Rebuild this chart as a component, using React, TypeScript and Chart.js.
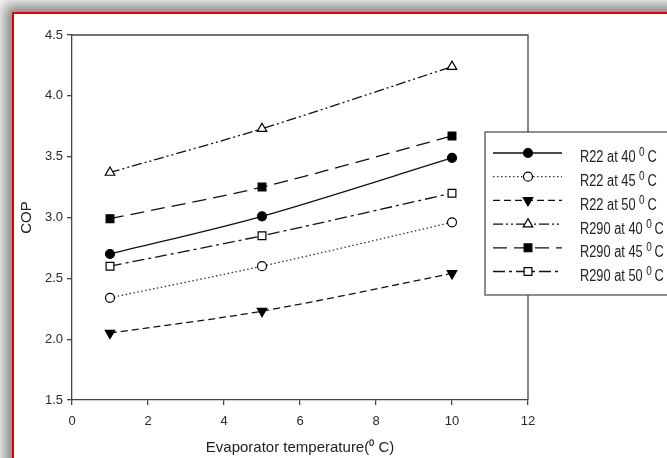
import React, { useEffect, useRef } from 'react';
import { Chart, registerables } from 'chart.js';
import { drawPoint } from 'chart.js/helpers';

Chart.register(...registerables);

// ---- data ----
const evapTemps = [1, 5, 10];
const r22At40 = [2.70, 3.01, 3.49];
const r22At45 = [2.34, 2.60, 2.96];
const r22At50 = [2.05, 2.23, 2.54];
const r290At40 = [3.37, 3.73, 4.24];
const r290At45 = [2.99, 3.25, 3.67];
const r290At50 = [2.60, 2.85, 3.20];

const seriesNames = ['R22 at 40', 'R22 at 45', 'R22 at 50', 'R290 at 40', 'R290 at 45', 'R290 at 50'];
const xTickValues = [0, 2, 4, 6, 8, 10, 12];
const yTickValues = [1.5, 2.0, 2.5, 3.0, 3.5, 4.0, 4.5];
const xTitle = 'Evaporator temperature(\u2070 C)';
const yTitle = 'COP';

const FONT = "'Liberation Sans', Arial, sans-serif";

const styles = [
  { pointStyle: 'circle', rotation: 0, radius: 4.5, filled: true, dash: [] as number[], color: '#111' },
  { pointStyle: 'circle', rotation: 0, radius: 4.5, filled: false, dash: [1.5, 2.5], color: '#333' },
  { pointStyle: 'triangle', rotation: 180, radius: 5.5, filled: true, dash: [7, 4], color: '#111' },
  { pointStyle: 'triangle', rotation: 0, radius: 5.5, filled: false, dash: [10, 3, 2, 3, 2, 3], color: '#111' },
  { pointStyle: 'rect', rotation: 0, radius: 5.5, filled: true, dash: [14, 7], color: '#111' },
  { pointStyle: 'rect', rotation: 0, radius: 5.5, filled: false, dash: [12, 4, 3, 4], color: '#111' },
];

const seriesValues = [r22At40, r22At45, r22At50, r290At40, r290At45, r290At50];

const framePlugin = {
  id: 'frameBox',
  beforeDatasetsDraw(chart: any) {
    const { ctx, chartArea } = chart;
    ctx.save();
    ctx.strokeStyle = '#444';
    ctx.lineWidth = 1.3;
    ctx.beginPath();
    ctx.moveTo(chartArea.left, chartArea.top);
    ctx.lineTo(chartArea.right, chartArea.top);
    ctx.lineTo(chartArea.right, chartArea.bottom);
    ctx.stroke();
    ctx.restore();
  },
};

const legendPlugin = {
  id: 'customLegend',
  afterDraw(chart: any) {
    const ctx = chart.ctx as CanvasRenderingContext2D;
    ctx.save();
    const bx = 485, by = 132, bw = 210, bh = 163;
    ctx.fillStyle = '#fff';
    ctx.fillRect(bx, by, bw, bh);
    ctx.strokeStyle = '#444';
    ctx.lineWidth = 1.2;
    ctx.strokeRect(bx, by, bw, bh);
    chart.data.datasets.forEach((ds: any, i: number) => {
      const y = 153 + i * 23.7;
      ctx.save();
      ctx.setLineDash(ds.borderDash || []);
      ctx.strokeStyle = ds.borderColor;
      ctx.lineWidth = ds.borderWidth;
      ctx.beginPath();
      ctx.moveTo(493, y);
      ctx.lineTo(562, y);
      ctx.stroke();
      ctx.setLineDash([]);
      ctx.fillStyle = ds.pointBackgroundColor;
      ctx.strokeStyle = ds.pointBorderColor;
      ctx.lineWidth = ds.pointBorderWidth;
      drawPoint(ctx, {
        pointStyle: ds.pointStyle,
        rotation: ds.pointRotation,
        radius: ds.pointRadius,
        borderWidth: ds.pointBorderWidth,
      } as any, 528, y);
      ctx.restore();

      // text (condensed)
      ctx.save();
      ctx.translate(580, y + 9.4);
      ctx.scale(0.8, 1);
      ctx.fillStyle = '#222';
      ctx.textBaseline = 'alphabetic';
      ctx.textAlign = 'left';
      ctx.font = `16px ${FONT}`;
      const base = seriesNames[i] + ' ';
      ctx.fillText(base, 0, 0);
      let x = ctx.measureText(base).width;
      ctx.font = `12.5px ${FONT}`;
      ctx.fillText('0', x, -6);
      x += ctx.measureText('0').width + 3.5;
      ctx.font = `16px ${FONT}`;
      ctx.fillText('C', x, 0);
      ctx.restore();
    });
    ctx.restore();
  },
};

export default function App() {
  const ref = useRef<HTMLCanvasElement | null>(null);

  useEffect(() => {
    if (!ref.current) return;
    const datasets = seriesValues.map((vals, i) => {
      const s = styles[i];
      return {
        label: seriesNames[i],
        data: evapTemps.map((x, j) => ({ x, y: vals[j] })),
        borderColor: s.color,
        borderWidth: 1.3,
        borderDash: s.dash,
        tension: 0.3,
        pointStyle: s.pointStyle,
        pointRotation: s.rotation,
        pointRadius: s.radius,
        pointHoverRadius: s.radius,
        pointBorderWidth: 1.2,
        pointBorderColor: '#000',
        pointBackgroundColor: s.filled ? '#000' : '#fff',
        fill: false,
      };
    });

    const chart = new Chart(ref.current, {
      type: 'line',
      data: { datasets },
      plugins: [framePlugin, legendPlugin],
      options: {
        responsive: false,
        animation: false,
        devicePixelRatio: 1,
        layout: { padding: { left: 0, top: 35, right: 139, bottom: 0 } },
        plugins: { legend: { display: false }, tooltip: { enabled: false } },
        scales: {
          x: {
            type: 'linear',
            min: 0,
            max: 12,
            afterBuildTicks: (s: any) => { s.ticks = xTickValues.map((v) => ({ value: v })); },
            afterFit: (s: any) => { s.height = 58; },
            ticks: { color: '#2a2a2a', font: { size: 13, family: FONT }, padding: 9, maxRotation: 0 },
            grid: { drawOnChartArea: false, drawTicks: true, tickLength: 5, color: '#444', lineWidth: 1.3 },
            border: { color: '#444', width: 1.3 },
            title: { display: true, text: xTitle, color: '#222', font: { size: 15, family: FONT }, padding: { top: 0, bottom: 1 } },
          },
          y: {
            type: 'linear',
            min: 1.5,
            max: 4.5,
            afterBuildTicks: (s: any) => { s.ticks = yTickValues.map((v) => ({ value: v })); },
            afterFit: (s: any) => { s.width = 72; },
            ticks: { color: '#2a2a2a', font: { size: 13, family: FONT }, padding: 4, callback: (v: any) => Number(v).toFixed(1) },
            grid: { drawOnChartArea: false, drawTicks: true, tickLength: 5, color: '#444', lineWidth: 1.3 },
            border: { color: '#444', width: 1.3 },
            title: { display: true, text: yTitle, color: '#222', font: { size: 15, family: FONT }, padding: { top: 18, bottom: 0 } },
          },
        },
      } as any,
    });
    return () => chart.destroy();
  }, []);

  return (
    <div style={{ position: 'fixed', left: 0, top: 0, width: 667, height: 458, overflow: 'hidden', background: '#f4f4f4' }}>
      <div
        style={{
          position: 'absolute',
          left: 12,
          top: 12,
          width: 720,
          height: 520,
          border: '2px solid #e00000',
          boxShadow: '-2px -2px 12px 5px rgba(0,0,0,0.45)',
          background: '#fff',
        }}
      />
      <canvas ref={ref} width={667} height={458} style={{ position: 'absolute', left: 0, top: 0 }} />
    </div>
  );
}
